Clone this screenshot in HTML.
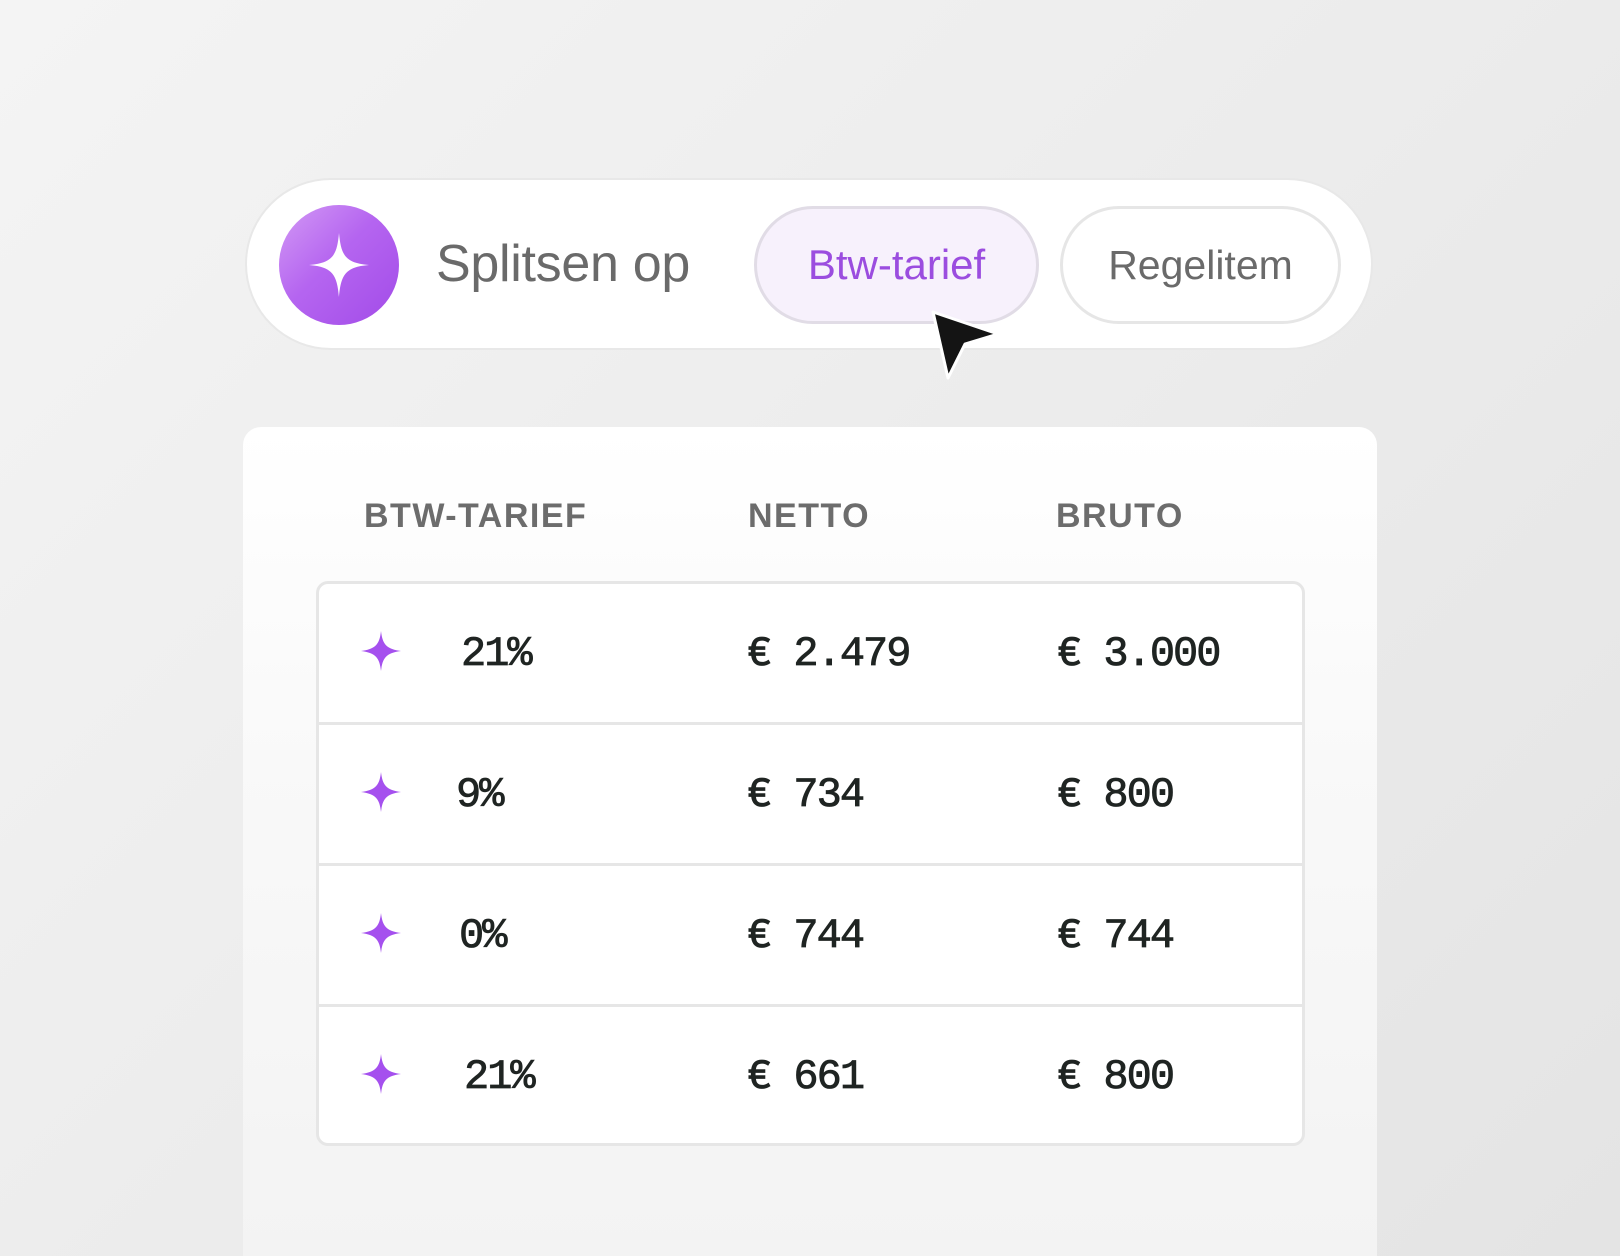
<!DOCTYPE html>
<html style="background:#ececec"><head><style>
html,body{margin:0;padding:0}
body{width:1620px;height:1256px;overflow:hidden;position:relative;background:linear-gradient(135deg,#f4f4f4 0%,#ececec 50%,#e4e4e4 100%);font-family:"Liberation Sans",sans-serif}
.pill{position:absolute;left:245px;top:178px;width:1128px;height:172px;border-radius:86px;background:#fff;border:2px solid #e8e8e8;box-sizing:border-box}
.circ{position:absolute;left:279px;top:205px;width:120px;height:120px;border-radius:50%;background:linear-gradient(135deg,#d39af5 0%,#b565f0 45%,#a24be8 100%)}
.lbl{position:absolute;left:436px;top:234px;font-size:52px;color:#6a6a6a;letter-spacing:-0.3px}
.b1{position:absolute;left:754px;top:206px;width:285px;height:118px;border-radius:59px;background:#f7f1fc;border:3px solid #e1dce6;box-sizing:border-box;color:#9b4ddf;font-size:42px;text-align:center;line-height:112px}
.b2{position:absolute;left:1060px;top:206px;width:281px;height:118px;border-radius:59px;background:#fff;border:3px solid #e6e6e6;box-sizing:border-box;color:#6a6a6a;font-size:41px;text-align:center;line-height:112px}
.card{position:absolute;left:243px;top:427px;width:1134px;height:829px;border-radius:18px 18px 0 0;background:linear-gradient(180deg,#fff 0%,#f9f9f9 40%,#f3f3f3 100%)}
.h{position:absolute;top:497px;font-size:34px;font-weight:bold;color:#6c6c6c;letter-spacing:1.5px}
.tbl{position:absolute;left:316px;top:581px;width:989px;height:565px;border:3px solid #e6e6e6;border-radius:12px;background:#fff;box-sizing:border-box}
.row{position:absolute;left:0;width:983px;height:141px;border-bottom:3px solid #e6e6e6;box-sizing:border-box}
.row:last-child{border-bottom:none}
.v{position:absolute;top:46px;font-family:"Liberation Mono",monospace;font-size:42px;color:#1f2422;letter-spacing:-2px;-webkit-text-stroke:0.8px #1f2422}
.s{position:absolute;left:42px;top:47px}
</style></head><body>
<div class="pill"></div>
<div class="circ"><svg width="120" height="120" viewBox="0 0 120 120"><path d="M60 28 C62 50 66 58 90 60 C66 62 62 70 60 92 C58 70 54 62 30 60 C54 58 58 50 60 28Z" fill="#fff"/></svg></div>
<div class="lbl">Splitsen op</div>
<div class="b1">Btw-tarief</div>
<div class="b2">Regelitem</div>
<svg style="position:absolute;left:920px;top:300px" width="100" height="90" viewBox="0 0 100 90"><path d="M13 12 L78 34 L45 44 L28 78 Z" fill="#141414" stroke="#fff" stroke-width="3" stroke-linejoin="round"/></svg>
<div class="card"></div>
<div class="h" style="left:364px">BTW-TARIEF</div>
<div class="h" style="left:748px">NETTO</div>
<div class="h" style="left:1056px">BRUTO</div>
<div class="tbl">
<div class="row" style="top:0"><svg class="s" width="40" height="40" viewBox="0 0 40 40"><path d="M20 0 C21.5 13 25 18 40 20 C25 22 21.5 27 20 40 C18.5 27 15 22 0 20 C15 18 18.5 13 20 0Z" fill="#a550ee"/></svg><div class="v" style="left:142px">21%</div><div class="v" style="left:428px">€ 2.479</div><div class="v" style="left:738px">€ 3.000</div></div>
<div class="row" style="top:141px"><svg class="s" width="40" height="40" viewBox="0 0 40 40"><path d="M20 0 C21.5 13 25 18 40 20 C25 22 21.5 27 20 40 C18.5 27 15 22 0 20 C15 18 18.5 13 20 0Z" fill="#a550ee"/></svg><div class="v" style="left:137px">9%</div><div class="v" style="left:428px">€ 734</div><div class="v" style="left:738px">€ 800</div></div>
<div class="row" style="top:282px"><svg class="s" width="40" height="40" viewBox="0 0 40 40"><path d="M20 0 C21.5 13 25 18 40 20 C25 22 21.5 27 20 40 C18.5 27 15 22 0 20 C15 18 18.5 13 20 0Z" fill="#a550ee"/></svg><div class="v" style="left:140px">0%</div><div class="v" style="left:428px">€ 744</div><div class="v" style="left:738px">€ 744</div></div>
<div class="row" style="top:423px"><svg class="s" width="40" height="40" viewBox="0 0 40 40"><path d="M20 0 C21.5 13 25 18 40 20 C25 22 21.5 27 20 40 C18.5 27 15 22 0 20 C15 18 18.5 13 20 0Z" fill="#a550ee"/></svg><div class="v" style="left:145px">21%</div><div class="v" style="left:428px">€ 661</div><div class="v" style="left:738px">€ 800</div></div>
</div>
</body></html>
